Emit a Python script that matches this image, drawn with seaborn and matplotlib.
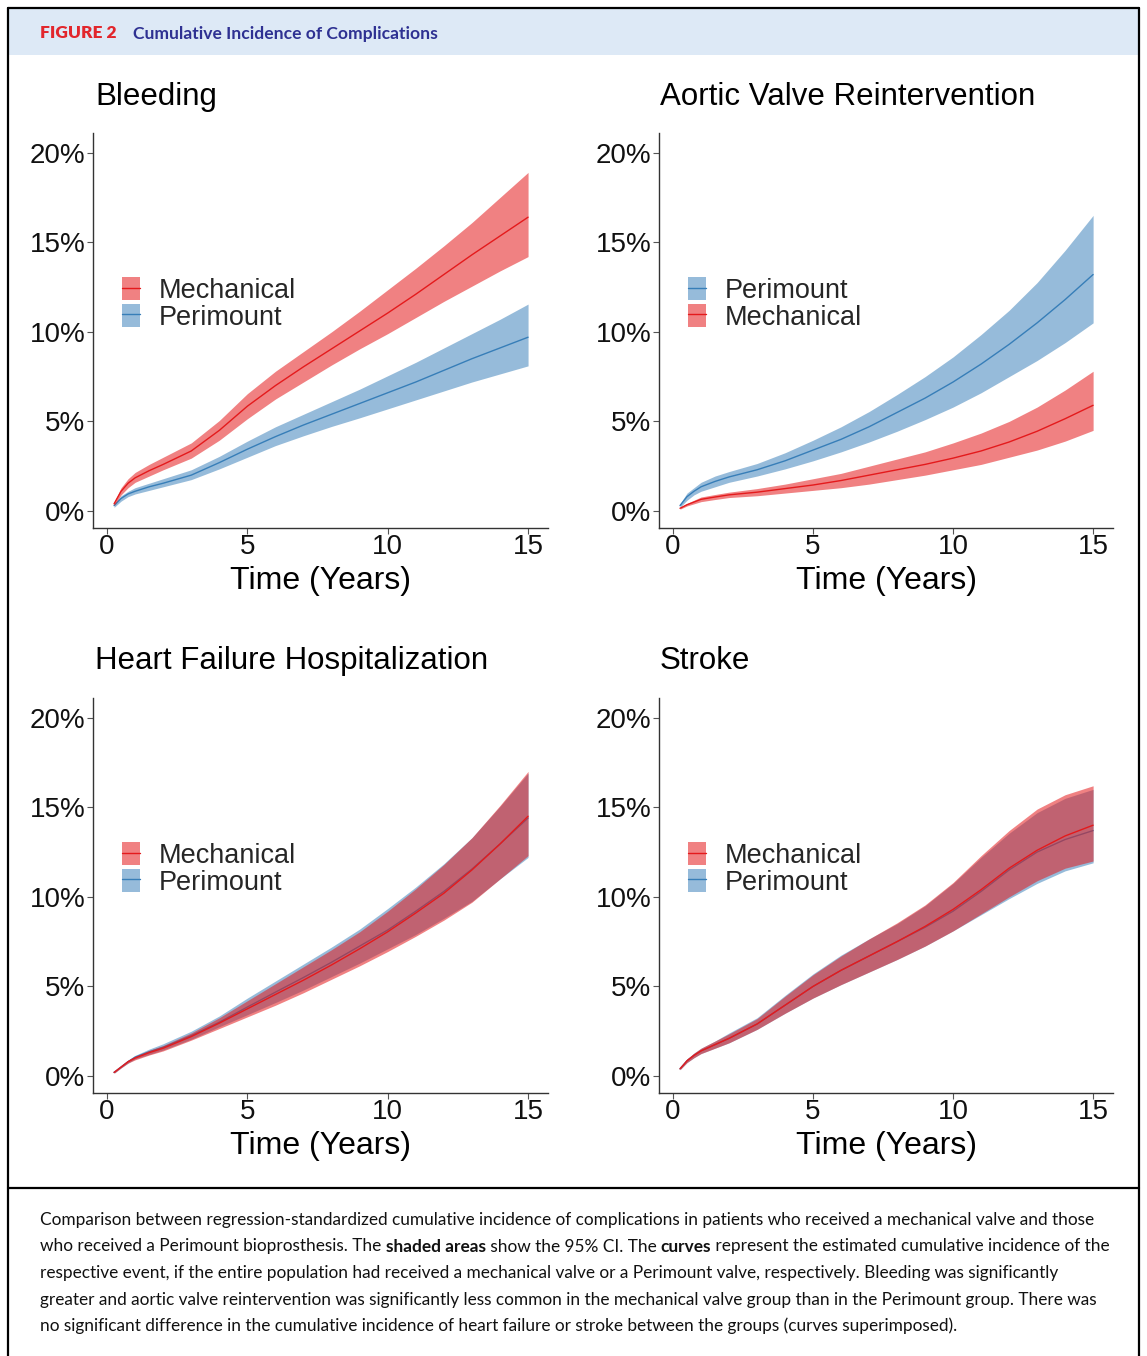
import numpy as np
import pandas as pd
import matplotlib
matplotlib.use("Agg")
import matplotlib.pyplot as plt
import seaborn as sns
from matplotlib.patches import Patch, Rectangle
from matplotlib.lines import Line2D

# ---------------- data ----------------
time_years = [0.25, 0.5, 0.75, 1, 1.5, 2, 3, 4, 5, 6, 7, 8, 9, 10, 11, 12, 13, 14, 15]

bleed_mech = [0.4, 1.1, 1.55, 1.85, 2.25, 2.6, 3.35, 4.5, 5.85, 7.0, 8.05, 9.05, 10.05, 11.05, 12.1, 13.2, 14.3, 15.35, 16.4]
bleed_mech_lo = [0.3, 0.9, 1.3, 1.6, 1.95, 2.3, 2.95, 3.95, 5.15, 6.25, 7.2, 8.15, 9.05, 9.9, 10.8, 11.7, 12.55, 13.4, 14.2]
bleed_mech_hi = [0.5, 1.3, 1.8, 2.15, 2.6, 3.0, 3.8, 5.05, 6.55, 7.8, 8.9, 10.0, 11.15, 12.35, 13.55, 14.8, 16.1, 17.5, 18.9]
bleed_peri = [0.3, 0.7, 0.95, 1.1, 1.35, 1.55, 2.0, 2.7, 3.45, 4.15, 4.8, 5.4, 6.0, 6.6, 7.2, 7.85, 8.5, 9.1, 9.7]
bleed_peri_lo = [0.2, 0.55, 0.8, 0.95, 1.15, 1.35, 1.75, 2.35, 3.0, 3.65, 4.2, 4.72, 5.2, 5.7, 6.2, 6.7, 7.2, 7.65, 8.1]
bleed_peri_hi = [0.4, 0.85, 1.1, 1.3, 1.55, 1.8, 2.3, 3.05, 3.9, 4.7, 5.4, 6.1, 6.8, 7.55, 8.3, 9.1, 9.9, 10.7, 11.55]

avr_peri = [0.3, 0.8, 1.1, 1.35, 1.65, 1.9, 2.3, 2.8, 3.4, 4.0, 4.7, 5.5, 6.3, 7.2, 8.2, 9.3, 10.5, 11.8, 13.2]
avr_peri_lo = [0.2, 0.6, 0.9, 1.1, 1.35, 1.6, 1.95, 2.35, 2.8, 3.3, 3.85, 4.45, 5.1, 5.8, 6.6, 7.5, 8.4, 9.4, 10.5]
avr_peri_hi = [0.4, 1.0, 1.3, 1.6, 1.95, 2.2, 2.65, 3.25, 3.95, 4.7, 5.55, 6.5, 7.5, 8.6, 9.85, 11.2, 12.75, 14.55, 16.5]
avr_mech = [0.15, 0.35, 0.5, 0.65, 0.78, 0.9, 1.05, 1.25, 1.45, 1.7, 2.0, 2.3, 2.6, 2.95, 3.35, 3.85, 4.45, 5.15, 5.9]
avr_mech_lo = [0.1, 0.28, 0.4, 0.52, 0.64, 0.75, 0.85, 1.0, 1.15, 1.3, 1.5, 1.75, 2.0, 2.3, 2.6, 3.0, 3.4, 3.9, 4.5]
avr_mech_hi = [0.2, 0.42, 0.6, 0.78, 0.92, 1.05, 1.25, 1.5, 1.8, 2.1, 2.5, 2.9, 3.3, 3.8, 4.35, 5.0, 5.8, 6.75, 7.8]

hf_mech = [0.2, 0.5, 0.8, 1.0, 1.3, 1.55, 2.2, 2.95, 3.75, 4.55, 5.35, 6.2, 7.1, 8.05, 9.1, 10.2, 11.5, 12.95, 14.5]
hf_mech_lo = [0.15, 0.45, 0.72, 0.9, 1.17, 1.4, 2.0, 2.65, 3.3, 3.95, 4.65, 5.4, 6.15, 6.95, 7.8, 8.7, 9.7, 11.0, 12.3]
hf_mech_hi = [0.25, 0.55, 0.88, 1.1, 1.43, 1.7, 2.4, 3.25, 4.2, 5.15, 6.1, 7.05, 8.05, 9.2, 10.45, 11.8, 13.3, 15.1, 17.0]
hf_peri = [0.2, 0.5, 0.8, 1.05, 1.35, 1.6, 2.25, 3.0, 3.85, 4.68, 5.5, 6.35, 7.25, 8.15, 9.2, 10.3, 11.55, 12.95, 14.4]
hf_peri_lo = [0.15, 0.45, 0.72, 0.95, 1.2, 1.45, 2.05, 2.75, 3.42, 4.1, 4.8, 5.55, 6.3, 7.1, 7.9, 8.8, 9.75, 11.0, 12.2]
hf_peri_hi = [0.25, 0.55, 0.88, 1.15, 1.5, 1.8, 2.5, 3.35, 4.35, 5.3, 6.25, 7.2, 8.2, 9.35, 10.55, 11.85, 13.3, 15.05, 16.9]

stroke_mech = [0.4, 0.85, 1.15, 1.4, 1.75, 2.1, 2.9, 3.95, 5.0, 5.9, 6.7, 7.5, 8.35, 9.3, 10.4, 11.6, 12.6, 13.4, 14.0]
stroke_mech_lo = [0.35, 0.75, 1.02, 1.25, 1.55, 1.85, 2.6, 3.5, 4.35, 5.1, 5.8, 6.5, 7.25, 8.1, 9.05, 10.0, 10.9, 11.6, 12.0]
stroke_mech_hi = [0.45, 0.95, 1.28, 1.55, 1.95, 2.35, 3.2, 4.45, 5.65, 6.7, 7.65, 8.55, 9.55, 10.8, 12.3, 13.7, 14.9, 15.7, 16.2]
stroke_peri = [0.4, 0.85, 1.15, 1.4, 1.75, 2.1, 2.9, 3.95, 5.0, 5.9, 6.7, 7.5, 8.3, 9.2, 10.3, 11.5, 12.5, 13.2, 13.7]
stroke_peri_lo = [0.35, 0.75, 1.02, 1.25, 1.55, 1.85, 2.6, 3.5, 4.35, 5.1, 5.8, 6.5, 7.25, 8.1, 9.0, 9.9, 10.75, 11.45, 11.9]
stroke_peri_hi = [0.45, 0.95, 1.28, 1.55, 1.95, 2.4, 3.25, 4.5, 5.7, 6.75, 7.65, 8.5, 9.5, 10.75, 12.2, 13.55, 14.7, 15.5, 16.0]

panel_titles = ["Bleeding", "Aortic Valve Reintervention", "Heart Failure Hospitalization", "Stroke"]
legend_orders = [["Mechanical", "Perimount"], ["Perimount", "Mechanical"],
                 ["Mechanical", "Perimount"], ["Mechanical", "Perimount"]]
x_ticks = [0, 5, 10, 15]
y_ticks = [0, 5, 10, 15, 20]
y_tick_labels = ["0%", "5%", "10%", "15%", "20%"]
x_label = "Time (Years)"

header_label = "FIGURE 2"
header_title = "Cumulative Incidence of Complications"
caption_lines = [
    [("Comparison between regression-standardized cumulative incidence of complications in patients who received a mechanical valve and those", "normal")],
    [("who received a Perimount bioprosthesis. The ", "normal"), ("shaded areas", "bold"),
     (" show the 95% CI. The ", "normal"), ("curves", "bold"),
     (" represent the estimated cumulative incidence of the", "normal")],
    [("respective event, if the entire population had received a mechanical valve or a Perimount valve, respectively. Bleeding was significantly", "normal")],
    [("greater and aortic valve reintervention was significantly less common in the mechanical valve group than in the Perimount group. There was", "normal")],
    [("no significant difference in the cumulative incidence of heart failure or stroke between the groups (curves superimposed).", "normal")],
]

panels = [
    dict(Mechanical=(bleed_mech, bleed_mech_lo, bleed_mech_hi), Perimount=(bleed_peri, bleed_peri_lo, bleed_peri_hi)),
    dict(Mechanical=(avr_mech, avr_mech_lo, avr_mech_hi), Perimount=(avr_peri, avr_peri_lo, avr_peri_hi)),
    dict(Mechanical=(hf_mech, hf_mech_lo, hf_mech_hi), Perimount=(hf_peri, hf_peri_lo, hf_peri_hi)),
    dict(Mechanical=(stroke_mech, stroke_mech_lo, stroke_mech_hi), Perimount=(stroke_peri, stroke_peri_lo, stroke_peri_hi)),
]

# ---------------- style ----------------
sns.set_theme(style="ticks")
plt.rcParams["font.family"] = ["Liberation Sans", "DejaVu Sans"]

colors = {"Mechanical": "#E41A1C", "Perimount": "#377EB8"}
band_alpha = {"Mechanical": 0.55, "Perimount": 0.52}
W, H = 1147, 1356
fig = plt.figure(figsize=(W / 100, H / 100), dpi=100)
fig.patch.set_facecolor("white")

def fx(px):
    return px / W

def fy(py):
    return 1 - py / H

# ---------------- frame and header ----------------
fig.add_artist(Rectangle((fx(8), fy(55)), fx(1139) - fx(8), fy(8) - fy(55),
                         transform=fig.transFigure, facecolor="#DDE9F6", edgecolor="none", zorder=0))
frame_kw = dict(transform=fig.transFigure, color="black", lw=1.6, zorder=5)
fig.add_artist(Line2D([fx(8), fx(1139)], [fy(8), fy(8)], **frame_kw))
fig.add_artist(Line2D([fx(8), fx(8)], [fy(8), fy(1356)], **frame_kw))
fig.add_artist(Line2D([fx(1139), fx(1139)], [fy(8), fy(1356)], **frame_kw))
fig.add_artist(Line2D([fx(8), fx(1139)], [fy(1188), fy(1188)], **frame_kw))

renderer = fig.canvas.get_renderer()

def text_width(s, **kw):
    t = fig.text(0, 0, s, **kw)
    w = t.get_window_extent(renderer).width
    t.remove()
    return w

def advance(s, **kw):
    return text_width(s + "|", **kw) - text_width("|", **kw)

lab_kw = dict(family=["Lato", "DejaVu Sans"], weight="heavy", color="#E2262C")
fig.text(fx(40), fy(33.5), header_label, fontsize=12.5, va="center", ha="left", **lab_kw)
tit_kw = dict(family=["Lato", "DejaVu Sans"], weight="bold", color="#2E3192")
size = 10 * 304 / text_width(header_title, fontsize=10, **tit_kw)
fig.text(fx(133), fy(33.5), header_title, fontsize=size, va="center", ha="left", **tit_kw)

# ---------------- caption ----------------
cap_family = ["Lato", "DejaVu Sans"]
line1 = caption_lines[0][0][0]
cap_size = 10 * 1056 / text_width(line1, fontsize=10, family=cap_family)
cap_y = [1220, 1246.5, 1273, 1299.5, 1326]
for segs, py in zip(caption_lines, cap_y):
    x = 40.0
    for txt, wt in segs:
        kw = dict(fontsize=cap_size, family=cap_family, weight=wt, color="#111111")
        fig.text(fx(x), fy(py), txt, va="center", ha="left", **kw)
        x += advance(txt, **kw)

# ---------------- panels ----------------
axes_px = [(93, 133, 548, 528), (659, 133, 1113, 528), (93, 698, 548, 1093), (659, 698, 1113, 1093)]
title_px = [(95, 97), (660, 97), (95, 661), (660, 661)]

for i, (box, data) in enumerate(zip(axes_px, panels)):
    x0, y0, x1, y1 = box
    ax = fig.add_axes([fx(x0), fy(y1), fx(x1) - fx(x0), fy(y0) - fy(y1)])
    z = 1
    for grp in ["Perimount", "Mechanical"]:
        mid, lo, hi = data[grp]
        ax.fill_between(time_years, lo, hi, color=colors[grp], alpha=band_alpha[grp], lw=0, zorder=z)
        df = pd.DataFrame({"time": time_years, "incidence": mid, "group": grp})
        sns.lineplot(data=df, x="time", y="incidence", color=colors[grp], lw=1.0, ax=ax,
                     legend=False, zorder=z + 1)
        z += 2
    ax.set_xlim(-0.5, 15.71)
    ax.set_ylim(-0.95, 21.1)
    ax.set_xticks(x_ticks)
    ax.set_xticklabels([str(t) for t in x_ticks])
    ax.set_yticks(y_ticks)
    ax.set_yticklabels(y_tick_labels)
    for s in ["top", "right"]:
        ax.spines[s].set_visible(False)
    for s in ["left", "bottom"]:
        ax.spines[s].set_color("#333333")
        ax.spines[s].set_linewidth(1.0)
    ax.tick_params(axis="both", length=4, width=0.8, color="#555555", labelsize=20,
                   labelcolor="#111111", pad=1.5, direction="out", bottom=True, left=True)
    ax.tick_params(axis="x", pad=0.5)
    ax.set_xlabel(x_label, fontsize=23, labelpad=4, color="black")
    ax.set_ylabel("")
    ax.set_facecolor("white")

    handles = [(Patch(facecolor=colors[g], alpha=band_alpha[g], edgecolor="none"),
                Line2D([], [], color=colors[g], lw=1.0)) for g in legend_orders[i]]
    ax.legend(handles, legend_orders[i], loc="center left", bbox_to_anchor=(0.064, 0.567),
              frameon=False, fontsize=19.5, handlelength=0.67, handleheight=0.9,
              handletextpad=0.67, labelspacing=0.0, borderpad=0, borderaxespad=0)

    tx, ty = title_px[i]
    fig.text(fx(tx), fy(ty), panel_titles[i], fontsize=22.5, va="center", ha="left", color="black")

fig.savefig("out.png", dpi=100)
